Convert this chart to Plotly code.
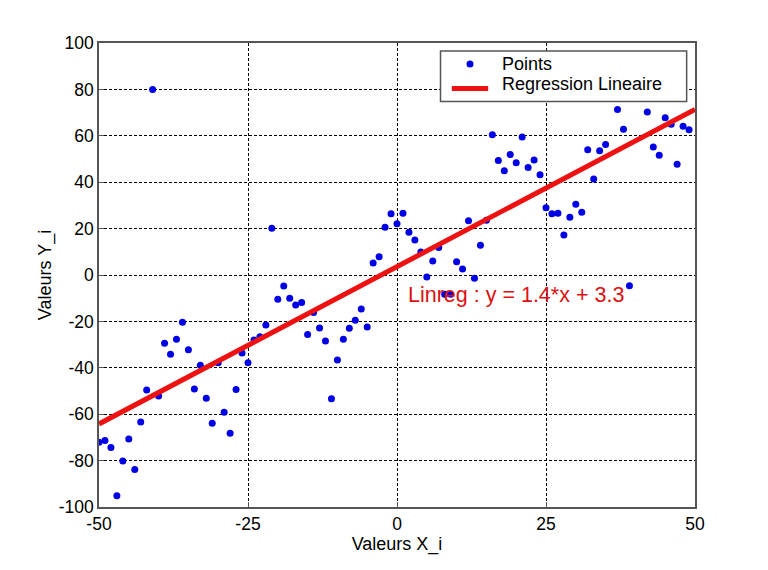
import plotly.graph_objects as go

# scatter points
x_pts = [-50, -49, -48, -47, -46, -45, -44, -43, -42, -41, -40, -39, -38, -37,
         -36, -35, -34, -33, -32, -31, -30, -29, -28, -27, -26, -25, -24, -23,
         -22, -21, -20, -19, -18, -17, -16, -15, -14, -13, -12, -11, -10, -9,
         -8, -7, -6, -5, -4, -3, -2, -1, 0, 1, 2, 3, 4, 5, 6, 7, 8, 9, 10, 11,
         12, 13, 14, 15, 16, 17, 18, 19, 20, 21, 22, 23, 24, 25, 26, 27, 28,
         29, 30, 31, 32, 33, 34, 35, 37, 38, 39, 42, 43, 44, 45, 46, 47, 48, 49]
y_pts = [-72.1, -71.3, -74.3, -95.1, -80.2, -70.7, -83.8, -63.4, -49.6, 80.0,
         -52.2, -29.4, -34.2, -27.7, -20.4, -32.2, -49.1, -38.9, -53.1, -63.9,
         -37.8, -59.2, -68.2, -49.3, -33.6, -37.8, -28.0, -26.6, -21.6, 20.1,
         -10.5, -4.7, -10.0, -12.9, -11.9, -25.6, -16.2, -22.8, -28.4, -53.3,
         -36.6, -27.7, -23.0, -19.5, -14.7, -22.4, 5.2, 7.9, 20.6, 26.4,
         22.1, 26.6, 18.4, 15.1, 9.9, -0.9, 6.0, 11.9, -8.3, -8.3,
         5.7, 2.6, 23.4, -1.4, 12.8, 23.6, 60.5, 49.3, 44.9, 51.9,
         48.4, 59.5, 46.3, 49.6, 43.2, 29.0, 26.4, 26.6, 17.2, 24.9,
         30.5, 27.0, 54.0, 41.4, 53.6, 56.3, 71.3, 62.8, -4.6, 70.3,
         55.2, 51.6, 67.8, 65.0, 47.7, 64.1, 62.6]

# regression line ends
line_x = [-50, 50]
line_y = [-64.2, 71.4]

x_ticks = [-50, -25, 0, 25, 50]
x_labels = ["-50", "-25", "0", "25", "50"]
y_ticks = [-100, -80, -60, -40, -20, 0, 20, 40, 60, 80, 100]
y_labels = ["-100", "-80", "-60", "-40", "-20", "0", "20", "40", "60", "80", "100"]

font = "Liberation Sans, Arial, sans-serif"
blue = "#0000e6"
red = "#ee1111"

fig = go.Figure()
fig.add_trace(go.Scatter(x=x_pts, y=y_pts, mode="markers", name="Points",
                         marker=dict(color=blue, size=7)))
fig.add_trace(go.Scatter(x=line_x, y=line_y, mode="lines",
                         name="Regression Lineaire",
                         line=dict(color=red, width=5)))

fig.add_annotation(x=1.5, y=-8.8, text="Linreg : y = 1.4*x + 3.3",
                   showarrow=False, xanchor="left", yanchor="middle",
                   font=dict(color="#dd1111", size=21.5, family=font))

# legend box drawn by hand (tight line spacing like the original)
fig.add_shape(type="rect", xref="paper", yref="paper",
              x0=0.573, x1=0.986, y0=0.874, y1=0.983,
              line=dict(color="#555555", width=1.5), fillcolor="white")
fig.add_shape(type="circle", xref="paper", yref="paper",
              xsizemode="pixel", ysizemode="pixel",
              xanchor=0.6225, yanchor=0.955, x0=-3.5, x1=3.5, y0=-3.5, y1=3.5,
              line=dict(width=0), fillcolor=blue)
fig.add_shape(type="line", xref="paper", yref="paper",
              x0=0.592, x1=0.653, y0=0.902, y1=0.902,
              line=dict(color=red, width=5))
for label, ypos in [("Points", 0.9555), ("Regression Lineaire", 0.912)]:
    fig.add_annotation(x=0.673, y=ypos, xref="paper", yref="paper",
                       text=label, showarrow=False,
                       xanchor="left", yanchor="middle",
                       font=dict(size=18, color="black", family=font))

axis_style = dict(
    showgrid=True, gridcolor="black", gridwidth=1, griddash="3px,2px",
    showline=True, linecolor="#555555", linewidth=1.5, mirror=True,
    ticks="inside", ticklen=5, tickcolor="#555555",
    zeroline=False, tickfont=dict(size=17.5, color="black", family=font),
)

fig.update_xaxes(range=[-50, 50], tickvals=x_ticks, ticktext=x_labels,
                 title=dict(text="Valeurs X_i", standoff=2,
                            font=dict(size=18, color="black", family=font)),
                 **axis_style)
fig.update_yaxes(range=[-100, 100], tickvals=y_ticks, ticktext=y_labels,
                 title=dict(text="Valeurs Y_i", standoff=2,
                            font=dict(size=18, color="black", family=font)),
                 **axis_style)

fig.update_layout(
    width=752, height=554,
    margin=dict(l=91, r=65, t=35, b=55),
    plot_bgcolor="white", paper_bgcolor="white",
    font=dict(family=font, color="black"),
    showlegend=False,
)

fig.write_html("out.html")
